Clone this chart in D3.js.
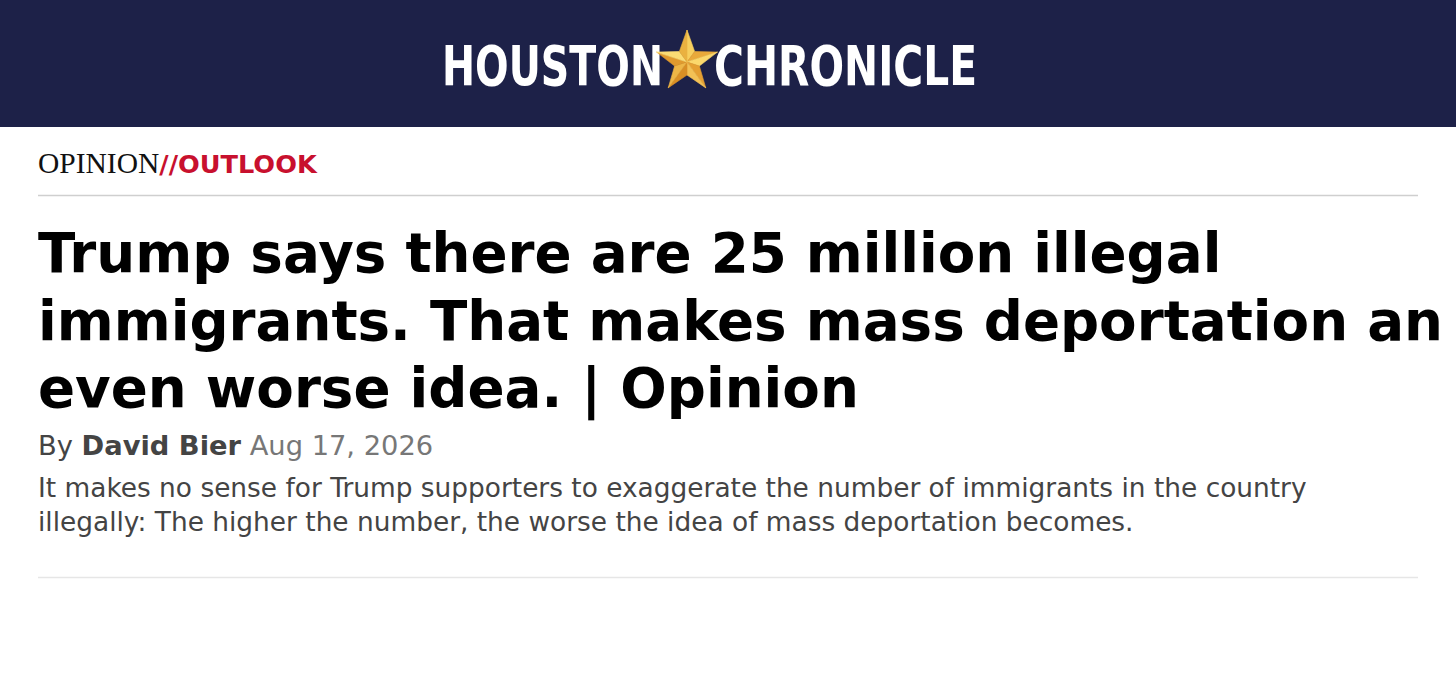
<!DOCTYPE html>
<html>
<head>
<meta charset="utf-8">
<script src="https://cdn.jsdelivr.net/npm/d3@7"></script>
<style>
  html, body { margin: 0; padding: 0; background: #fff; }
  svg { display: block; }
</style>
</head>
<body>
<div id="page"></div>
<script>
const W = 1456, H = 699;

const logoWords = ["HOUSTON", "CHRONICLE"];
const sectionParts = ["OPINION", "//OUTLOOK"];
const headlineLines = [
  "Trump says there are 25 million illegal",
  "immigrants. That makes mass deportation an",
  "even worse idea. | Opinion"
];
const bylineParts = ["By ", "David Bier", " Aug 17, 2026"];
const summaryLines = [
  "It makes no sense for Trump supporters to exaggerate the number of immigrants in the country",
  "illegally: The higher the number, the worse the idea of mass deportation becomes."
];

const svg = d3.select("#page").append("svg")
  .attr("width", W)
  .attr("height", H);

// masthead
svg.append("rect").attr("width", W).attr("height", 127).attr("fill", "#1d2148");

const logoX = d3.scaleOrdinal().domain(logoWords).range([442, 714]);
const logoW = d3.scaleOrdinal().domain(logoWords).range([221, 263]);

svg.selectAll(".logo")
  .data(logoWords)
  .join("text")
  .attr("class", "logo")
  .attr("x", d => logoX(d))
  .attr("y", 85)
  .attr("textLength", d => logoW(d))
  .attr("lengthAdjust", "spacingAndGlyphs")
  .style("font-family", "'DejaVu Sans Condensed', 'DejaVu Sans'")
  .style("font-weight", "bold")
  .style("font-size", "55px")
  .style("fill", "#fff")
  .text(d => d);

// faceted gold star
const star = { cx: 687, cy: 62, r: 32, ri: 13 };
const pts = d3.range(10).map(i => {
  const a = -Math.PI / 2 + i * Math.PI / 5;
  const rr = i % 2 === 0 ? star.r : star.ri;
  return [star.cx + rr * Math.cos(a), star.cy + rr * Math.sin(a)];
});
const facets = d3.range(10).map(i => [[star.cx, star.cy], pts[i], pts[(i + 1) % 10]]);
const facetColor = ["#f7cf5e", "#e9a93a", "#fbd86c", "#e5a032", "#f3c155", "#d98f25", "#eeb646", "#e09a2e", "#fbdc74", "#eab140"];
svg.selectAll(".facet")
  .data(facets)
  .join("path")
  .attr("class", "facet")
  .attr("d", d => "M" + d.join("L") + "Z")
  .attr("fill", (d, i) => facetColor[i])
  .attr("stroke", (d, i) => facetColor[i])
  .attr("stroke-width", 0.6);

// section label
const section = svg.append("text").attr("x", 38).attr("y", 173);
section.append("tspan")
  .style("font-family", "'Liberation Serif', serif")
  .style("font-size", "29.5px")
  .style("fill", "#111")
  .text(sectionParts[0]);
section.append("tspan")
  .style("font-family", "'DejaVu Sans'")
  .style("font-weight", "bold")
  .style("font-size", "25.6px")
  .style("fill", "#c8102e")
  .text(sectionParts[1]);

svg.append("line").attr("x1", 38).attr("x2", 1418).attr("y1", 195.5).attr("y2", 195.5)
  .attr("stroke", "#cfcfcf").attr("stroke-width", 1.5);

// headline
const yHead = d3.scaleLinear().domain([0, 1]).range([272, 339.5]);
svg.selectAll(".headline")
  .data(headlineLines)
  .join("text")
  .attr("class", "headline")
  .attr("x", 38)
  .attr("y", (d, i) => yHead(i))
  .style("font-family", "'DejaVu Sans'")
  .style("font-weight", "bold")
  .style("font-size", "54.7px")
  .style("fill", "#000")
  .text(d => d);

// byline
const byline = svg.append("text").attr("x", 38).attr("y", 455)
  .style("font-family", "'DejaVu Sans'")
  .style("font-size", "27.3px");
byline.selectAll("tspan")
  .data(bylineParts)
  .join("tspan")
  .style("font-weight", (d, i) => i === 1 ? "bold" : "normal")
  .style("fill", (d, i) => i === 2 ? "#777" : "#444")
  .style("white-space", "pre")
  .attr("xml:space", "preserve")
  .text(d => d);

// summary
const ySum = d3.scaleLinear().domain([0, 1]).range([497, 531]);
svg.selectAll(".summary")
  .data(summaryLines)
  .join("text")
  .attr("class", "summary")
  .attr("x", 38)
  .attr("y", (d, i) => ySum(i))
  .style("font-family", "'DejaVu Sans'")
  .style("font-size", "26.4px")
  .style("fill", "#444")
  .text(d => d);

svg.append("line").attr("x1", 38).attr("x2", 1418).attr("y1", 577.5).attr("y2", 577.5)
  .attr("stroke", "#e6e6e6").attr("stroke-width", 1.5);
</script>
</body>
</html>
